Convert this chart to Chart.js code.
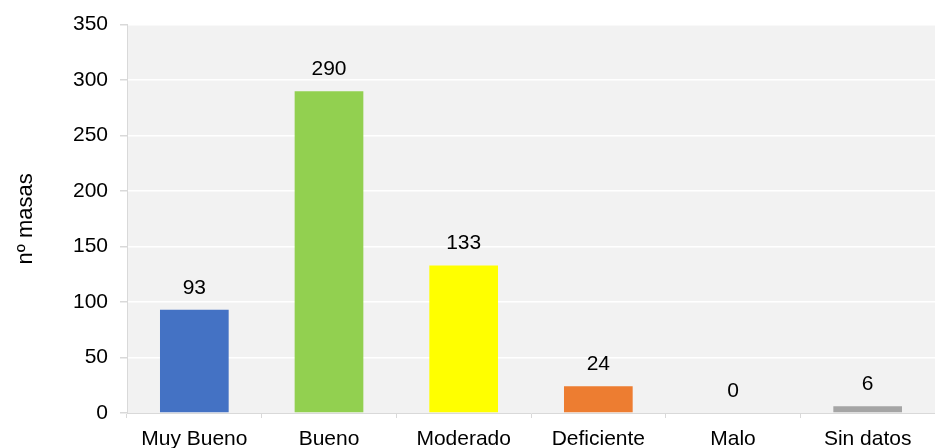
<!DOCTYPE html>
<html>
<head>
<meta charset="utf-8">
<script src="https://cdn.jsdelivr.net/npm/chart.js@4/dist/chart.umd.min.js"></script>
<style>
html,body{margin:0;padding:0;background:#fff;}
#wrap{width:935px;height:448px;position:relative;}
</style>
</head>
<body>
<div id="wrap"><canvas id="c"></canvas></div>
<script>
const categories = ["Muy Bueno", "Bueno", "Moderado", "Deficiente", "Malo", "Sin datos"];
const values = [93, 290, 133, 24, 0, 6];
const barColors = ["#4472C4", "#92D050", "#FFFF00", "#ED7D31", "#4472C4", "#A5A5A5"];
const yTicks = [0, 50, 100, 150, 200, 250, 300, 350];
const yTitle = "nº masas";

const FONT = "'Liberation Sans', Arial, sans-serif";

const bgPlugin = {
  id: 'plotBg',
  beforeDraw(chart) {
    const {ctx, chartArea: a} = chart;
    ctx.save();
    ctx.fillStyle = '#F2F2F2';
    ctx.fillRect(a.left, a.top, a.right - a.left, a.bottom - a.top);
    ctx.restore();
  }
};

const labelPlugin = {
  id: 'valLabels',
  afterDatasetsDraw(chart) {
    const {ctx} = chart;
    const meta = chart.getDatasetMeta(0);
    ctx.save();
    ctx.font = "21px " + FONT;
    ctx.fillStyle = '#000';
    ctx.textAlign = 'center';
    ctx.textBaseline = 'alphabetic';
    meta.data.forEach((bar, i) => {
      ctx.fillText(String(values[i]), bar.x, bar.y - 16);
    });
    ctx.restore();
  }
};

new Chart(document.getElementById('c'), {
  type: 'bar',
  data: {
    labels: categories,
    datasets: [{
      data: values,
      backgroundColor: barColors,
      borderWidth: 0,
      categoryPercentage: 1.0,
      barPercentage: 0.51
    }]
  },
  options: {
    responsive: true,
    maintainAspectRatio: false,
    animation: false,
    layout: {padding: {top: 24, right: 0, left: 0, bottom: 0}},
    plugins: {legend: {display: false}, tooltip: {enabled: false}},
    scales: {
      x: {
        grid: {drawOnChartArea: false, drawTicks: true, tickLength: 5, tickColor: '#D9D9D9', offset: true},
        border: {display: true, color: '#D9D9D9', width: 1},
        ticks: {color: '#000', font: {family: FONT, size: 21}, padding: 9, maxRotation: 0, autoSkip: false},
        afterFit(s) { s.height = 35; }
      },
      y: {
        min: 0, max: 350,
        afterBuildTicks(s) { s.ticks = yTicks.map(v => ({value: v})); },
        grid: {
          color: (c) => c.tick && c.tick.value === 0 ? 'rgba(0,0,0,0)' : '#FFFFFF',
          lineWidth: 1.5,
          drawTicks: true, tickLength: 7, tickColor: '#D9D9D9'
        },
        border: {display: true, color: '#D9D9D9', width: 1},
        ticks: {color: '#000', font: {family: FONT, size: 21}, padding: 12},
        title: {display: true, text: yTitle, color: '#000', font: {family: FONT, size: 22}, padding: {top: 13, bottom: 0}},
        afterFit(s) { s.width = 127; }
      }
    }
  },
  plugins: [bgPlugin, labelPlugin]
});
</script>
</body>
</html>
